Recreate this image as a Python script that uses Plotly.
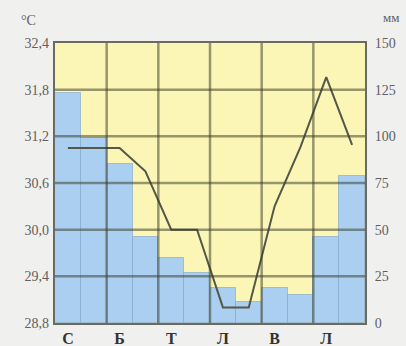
import plotly.graph_objects as go

# Data
months = list(range(1, 13))
precip_mm = [123, 99, 85, 46, 35, 27, 19, 11, 19, 15, 46, 79]
temp_c = [31.05, 31.05, 31.05, 30.75, 30.0, 30.0, 29.0, 29.0, 30.3, 31.06, 31.96, 31.09]
month_labels = ["С", "Б", "Т", "Л", "В", "Л"]
month_label_pos = [1, 3, 5, 7, 9, 11]
temp_ticks = [28.8, 29.4, 30.0, 30.6, 31.2, 31.8, 32.4]
temp_ticktext = ["28,8", "29,4", "30,0", "30,6", "31,2", "31,8", "32,4"]
precip_ticks = [0, 25, 50, 75, 100, 125, 150]

PLOT_BG = "#fbf5b6"
BAR_COLOR = "#aacff0"
GRID = "rgba(60,62,40,0.52)"
LABEL = "#606060"
SERIF = "Liberation Serif, DejaVu Serif, serif"

fig = go.Figure()
fig.add_trace(go.Bar(
    x=months, y=precip_mm, yaxis="y", width=1,
    marker=dict(color=BAR_COLOR, line=dict(color="rgba(125,165,205,0.6)", width=1)),
    showlegend=False,
))
fig.add_trace(go.Scatter(
    x=months, y=temp_c, mode="lines", yaxis="y2",
    line=dict(color="#55574a", width=2),
    showlegend=False,
))

shapes = []
for t in temp_ticks[1:-1]:
    shapes.append(dict(type="line", xref="paper", yref="y2", x0=0, x1=1, y0=t, y1=t,
                       line=dict(color=GRID, width=2.5), layer="above"))
for p in month_label_pos[1:]:
    xb = p - 0.5
    shapes.append(dict(type="line", xref="x", yref="paper", x0=xb, x1=xb, y0=0, y1=1,
                       line=dict(color=GRID, width=2.5), layer="above"))

fig.update_layout(
    width=406, height=346,
    margin=dict(l=55, r=41, t=43, b=23),
    paper_bgcolor="#f0f0ee",
    plot_bgcolor=PLOT_BG,
    bargap=0,
    shapes=shapes,
    xaxis=dict(
        range=[0.5, 12.5], tickvals=month_label_pos, ticktext=month_labels,
        showgrid=False, zeroline=False, ticks="", automargin=False,
        tickfont=dict(family=SERIF, size=16, color="#333333", weight="bold"),
        showline=True, linecolor="rgba(60,62,50,0.75)", linewidth=2, mirror=True,
        ticklabelstandoff=0,
    ),
    yaxis=dict(
        range=[0, 150], tickvals=precip_ticks, side="right",
        showgrid=False, zeroline=False, ticks="", automargin=False,
        tickfont=dict(family=SERIF, size=14, color=LABEL),
        showline=True, linecolor="rgba(60,62,50,0.75)", linewidth=2, mirror=True,
        ticklabelstandoff=5,
    ),
    yaxis2=dict(
        range=[28.8, 32.4], tickvals=temp_ticks, ticktext=temp_ticktext,
        overlaying="y", side="left",
        showgrid=False, zeroline=False, ticks="", automargin=False,
        tickfont=dict(family=SERIF, size=14, color=LABEL),
        ticklabelstandoff=5,
    ),
    annotations=[
        dict(text="°C", xref="paper", yref="paper", x=-0.115, y=1.0, yshift=32,
             showarrow=False, font=dict(family=SERIF, size=14, color=LABEL)),
        dict(text="мм", xref="paper", yref="paper", x=1.115, y=1.0, yshift=35,
             showarrow=False, font=dict(family=SERIF, size=13, color=LABEL)),
    ],
)

fig.write_html("out.html", config={"displayModeBar": False},
               post_script="document.body.style.margin='0';")
